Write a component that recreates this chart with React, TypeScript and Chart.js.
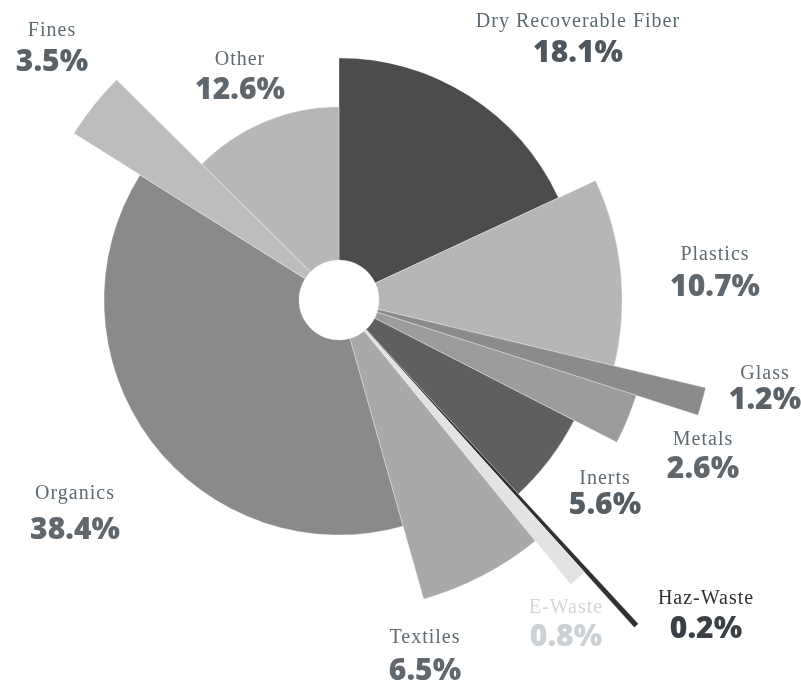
import React, { useEffect, useRef } from "react";
import { Chart, registerables } from "chart.js";

Chart.register(...registerables);

// ---- data ----
const categories = [
  "Dry Recoverable Fiber",
  "Plastics",
  "Glass",
  "Metals",
  "Inerts",
  "Haz-Waste",
  "E-Waste",
  "Textiles",
  "Organics",
  "Fines",
  "Other",
];
const shares = [18.1, 10.7, 1.2, 2.6, 5.6, 0.2, 0.8, 6.5, 38.4, 3.5, 12.6];
// relative slice reach (largest = 100)
const sliceReach = [54.9, 64.2, 85.5, 70.8, 59.9, 100, 83.2, 70.5, 53.3, 71.0, 43.8];
const valueLabels = ["18.1%", "10.7%", "1.2%", "2.6%", "5.6%", "0.2%", "0.8%", "6.5%", "38.4%", "3.5%", "12.6%"];

// ---- styles ----
const sliceColors = [
  "#4c4c4c",
  "#b6b6b6",
  "#8b8b8b",
  "#9c9c9c",
  "#5f5f5f",
  "#2f3235",
  "#e3e3e3",
  "#a9a9a9",
  "#8a8a8a",
  "#bdbdbd",
  "#b7b7b7",
];
// label centers [x, nameY, valueY]
const labelSpots: [number, number, number][] = [
  [578, 20, 51],
  [715, 253, 285],
  [765, 372, 398],
  [703, 438, 467],
  [605, 477, 503],
  [706, 597, 627],
  [566, 606, 635],
  [425, 636, 669],
  [75, 492, 528],
  [52, 29, 60],
  [240, 58, 88],
];
const nameColors = ["#5b6a72", "#5f6b72", "#5f6b72", "#5f6b72", "#5f6b72", "#2e3236", "#d2d7da", "#5f6b72", "#5f6b72", "#5f6b72", "#5f6b72"];
const valueColors = ["#4f565c", "#60686e", "#5a6268", "#60686e", "#565e64", "#3a4046", "#cbd1d5", "#60686e", "#60686e", "#5a6268", "#60686e"];

const HOLE = 40;
const W = 801;
const H = 685;

const reachPlugin = {
  id: "reach",
  beforeDatasetsDraw(chart: any) {
    const meta = chart.getDatasetMeta(0);
    const maxR = (meta.controller as any).outerRadius;
    meta.data.forEach((arc: any, i: number) => {
      arc.innerRadius = HOLE;
      arc.outerRadius = (maxR * sliceReach[i]) / 100;
    });
  },
};

export default function App() {
  const ref = useRef<HTMLCanvasElement | null>(null);
  useEffect(() => {
    if (!ref.current) return;
    const chart = new Chart(ref.current, {
      type: "doughnut",
      data: {
        labels: categories,
        datasets: [
          {
            data: shares,
            backgroundColor: sliceColors,
            borderColor: "rgba(255,255,255,0.55)",
            borderWidth: 0.6,
          },
        ],
      },
      options: {
        responsive: false,
        animation: false,
        events: [],
        radius: 441,
        cutout: HOLE,
        layout: { padding: { left: 0, top: 0, right: 123, bottom: 85 } },
        plugins: {
          legend: { display: false },
          tooltip: { enabled: false },
        },
      } as any,
      plugins: [reachPlugin],
    });
    return () => chart.destroy();
  }, []);

  return (
    <div style={{ position: "absolute", left: 0, top: 0, width: W, height: H, background: "#fff", overflow: "hidden" }}>
      <canvas ref={ref} width={W} height={H} style={{ position: "absolute", left: 0, top: 0 }} />
      {categories.map((c, i) => (
        <React.Fragment key={c}>
          <div
            style={{
              position: "absolute",
              left: labelSpots[i][0] - 150,
              width: 300,
              top: labelSpots[i][1] - 12,
              height: 24,
              lineHeight: "24px",
              textAlign: "center",
              fontFamily: "'Liberation Serif', 'DejaVu Serif', serif",
              fontSize: 20,
              letterSpacing: 1,
              color: nameColors[i],
              whiteSpace: "nowrap",
            }}
          >
            {c}
          </div>
          <div
            style={{
              position: "absolute",
              left: labelSpots[i][0] - 150,
              width: 300,
              top: labelSpots[i][2] - 18,
              height: 36,
              lineHeight: "36px",
              textAlign: "center",
              fontFamily: "'Open Sans', 'Noto Sans', sans-serif",
              fontWeight: 800,
              fontSize: 30,
              color: valueColors[i],
              whiteSpace: "nowrap",
            }}
          >
            {valueLabels[i]}
          </div>
        </React.Fragment>
      ))}
    </div>
  );
}
